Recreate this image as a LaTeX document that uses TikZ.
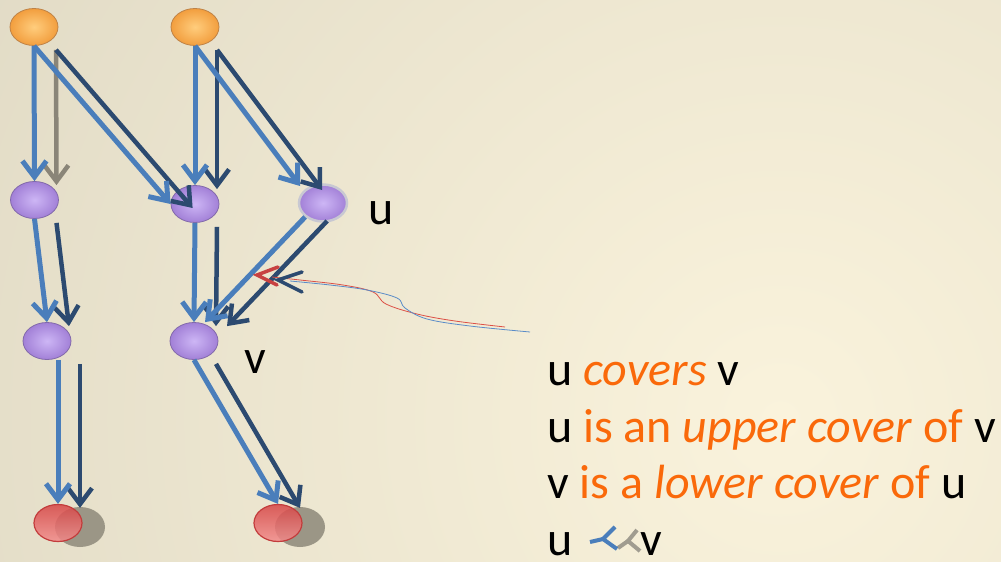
\documentclass[tikz,border=0pt]{standalone}
\usepackage{fontspec}
\setmainfont{Carlito}
\usetikzlibrary{arrows.meta,shapes.geometric,calc}
\definecolor{bglight}{RGB}{250,243,220}
\definecolor{bgdark}{RGB}{210,204,184}
\definecolor{arrblue}{RGB}{74,126,187}
\definecolor{arrshadow}{RGB}{44,74,112}
\definecolor{arrgrey}{RGB}{138,133,120}
\definecolor{txtorange}{RGB}{250,105,10}
\definecolor{orin}{RGB}{255,205,125}
\definecolor{orout}{RGB}{242,158,62}
\definecolor{orline}{RGB}{190,130,70}
\definecolor{puin}{RGB}{205,182,245}
\definecolor{puout}{RGB}{162,128,215}
\definecolor{puline}{RGB}{130,105,170}
\definecolor{redtop}{RGB}{214,68,68}
\definecolor{redbot}{RGB}{242,140,140}
\definecolor{redline}{RGB}{195,60,60}
\definecolor{shadowgrey}{RGB}{155,150,134}
\definecolor{curvered}{RGB}{220,80,70}
\definecolor{curveblue}{RGB}{90,140,200}
\definecolor{headred}{RGB}{200,65,65}
\definecolor{symgrey}{RGB}{160,156,144}
\begin{document}
\begin{tikzpicture}[x=1pt,y=-1pt,
  vertex/.style={ellipse, minimum width=48pt, minimum height=37pt, inner sep=0pt},
  topv/.style={vertex, inner color=orin, outer color=orout, draw=orline, line width=0.8pt},
  midv/.style={vertex, inner color=puin, outer color=puout, draw=puline, line width=0.8pt},
  botv/.style={vertex, top color=redtop, bottom color=redbot, draw=redline, line width=1.2pt, fill opacity=0.85},
  covarrow/.style={draw=arrblue, line width=5pt, -{Straight Barb[length=16pt,width=24pt]}},
  covshadow/.style={draw=arrshadow, line width=4.5pt, -{Straight Barb[length=16pt,width=24pt]}},
  greyshadow/.style={covshadow, draw=arrgrey},
  txt/.style={font=\fontsize{48}{57}\selectfont, inner sep=0pt, anchor=base west},
  handline/.style={line width=0.8pt},
  handhead/.style={line width=3.5pt, line cap=round, line join=miter},
  symline/.style={line width=4pt}
]
\useasboundingbox (0,0) rectangle (1001,562);
\begin{scope}
  \clip (0,0) rectangle (1001,562);
  \shade[inner color=bglight, outer color=bgdark] (780,420) circle[radius=1500pt];
\end{scope}

% shadows of bottom nodes
\fill[shadowgrey] (80,527) ellipse[x radius=25pt, y radius=20pt];
\fill[shadowgrey] (300,527) ellipse[x radius=25pt, y radius=20pt];

% nodes
\node[topv] (o1) at (34,27) {};
\node[topv] (o2) at (195,27) {};
\node[midv] (p1) at (34.5,200) {};
\node[midv] (p2) at (195,204) {};
\node[midv, draw={rgb,255:red,200;green,200;blue,210}, line width=2.5pt] (p3) at (323,203) {};
\node[midv] (q1) at (47,341) {};
\node[midv] (q2) at (194,341) {};
\node[botv] (r1) at (58,523) {};
\node[botv] (r2) at (278,523) {};

% shadow arrows
\draw[greyshadow] ($(o1.south)+(22,4)$) -- ($(p1.north)+(22,4)$);
\draw[covshadow] ($(o1.south)+(22,4)$) -- ($(p2.west)+(22,4)$);
\draw[covshadow] ($(o2.south)+(22,4)$) -- ($(p2.north)+(22,4)$);
\draw[covshadow] ($(o2.south)+(22,4)$) -- ($(p3.north west)+(-5,-3)+(22,4)$);
\draw[covshadow] ($(p1.south)+(22,4)$) -- ($(q1.north)+(22,4)$);
\draw[covshadow] ($(p2.south)+(22,4)$) -- ($(q2.north)+(22,4)$);
\draw[covshadow] ($(p3.south west)+(22,4)$) -- ($(q2.north)+(11,0)+(22,4)$);
\draw[covshadow] ($(q1.south -| r1.north)+(22,4)$) -- ($(r1.north)+(22,4)$);
\draw[covshadow] ($(q2.south)+(22,4)$) -- ($(r2.north)+(22,4)$);

% cover arrows
\draw[covarrow] (o1.south) -- (p1.north);
\draw[covarrow] (o1.south) -- (p2.west);
\draw[covarrow] (o2.south) -- (p2.north);
\draw[covarrow] (o2.south) -- ($(p3.north west)+(-5,-3)$);
\draw[covarrow] (p1.south) -- (q1.north);
\draw[covarrow] (p2.south) -- (q2.north);
\draw[covarrow] (p3.south west) -- ($(q2.north)+(11,0)$);
\draw[covarrow] (q1.south -| r1.north) -- (r1.north);
\draw[covarrow] (q2.south) -- (r2.north);

% labels
\node[txt] (lu) at (368,224) {u};
\node[txt] (lv) at (244,373) {v};

% hand-drawn pointer
\coordinate (redtip) at (257,275);
\coordinate (bluetip) at (278,280);
\draw[handline, curvered] plot[smooth, tension=0.6] coordinates {(505,327) (455,321) (417,314) (386,304) (373,292) (343,285) (300,280) (272,277)};
\draw[handline, curveblue] plot[smooth, tension=0.6] coordinates {(530,332) (470,326) (427,319) (405,308) (397,298) (367,290) (330,285) (290,281)};
\draw[handhead, headred] (278,267) -- (redtip) -- (277,285);
\draw[handhead, arrshadow] (302,272) -- (bluetip) -- (302,292);

% text block
\node[txt] (t1) at (547,385) {u \textcolor{txtorange}{\itshape covers} v};
\node[txt] (t2) at (547,442) {u \textcolor{txtorange}{is an \textit{upper cover} of} v};
\node[txt] (t3) at (547,498) {v \textcolor{txtorange}{is a \textit{lower cover} of} u};
\node[txt] (t4u) at (547,555) {u};
\draw[symline, symgrey] (618,548) -- (628,541);
\draw[symline, symgrey] (637,530) -- (628,541) -- (640,551);
\draw[symline, arrblue] (590,542) -- (603,539);
\draw[symline, arrblue] (615,527) -- (603,539) -- (617,549);
\node[txt] (t4v) at (640,555) {v};
\end{tikzpicture}
\end{document}
